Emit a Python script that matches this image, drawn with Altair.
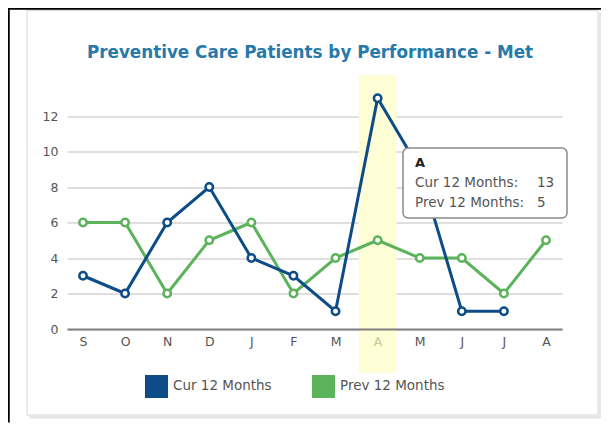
import altair as alt
import pandas as pd

# ---- data ----
months = ["Sep", "Oct", "Nov", "Dec", "Jan", "Feb", "Mar", "Apr", "May", "Jun", "Jul", "Aug"]
cur = [3, 2, 6, 8, 4, 3, 1, 13, 9, 1, 1, None]
prev = [6, 6, 2, 5, 6, 2, 4, 5, 4, 4, 2, 5]
series_names = ["Cur 12 Months", "Prev 12 Months"]
series_colors = ["#0d4c87", "#5cb35c"]
highlight_month = "Apr"
title_text = "Preventive Care Patients by Performance - Met"
y_ticks = [0, 2, 4, 6, 8, 10, 12]

rows = []
for m, c, p in zip(months, cur, prev):
    if c is not None:
        rows.append({"month": m, "series": series_names[0], "value": c})
    rows.append({"month": m, "series": series_names[1], "value": p})
df = pd.DataFrame(rows)
one = pd.DataFrame({"k": [0]})
hi_idx = months.index(highlight_month)
band_df = pd.DataFrame({"month": [highlight_month]})

FONT = "DejaVu Sans"
W, H = 495, 248.5
x_scale = alt.Scale(type="point", domain=months, padding=0.38)
y_scale = alt.Scale(domain=[0, 14], nice=False, zero=True)
color_scale = alt.Scale(domain=series_names, range=series_colors)

x_enc = alt.X(
    "month:N", scale=x_scale, sort=months,
    axis=alt.Axis(
        title=None, ticks=False, grid=False, domainColor="#808080", domainWidth=2,
        labelExpr="substring(datum.value, 0, 1)", labelAngle=0, labelPadding=6,
        labelFontSize=12.5, labelFont=FONT, zindex=1,
        labelColor={"condition": {"test": f"datum.value == '{highlight_month}'", "value": "#c8c98c"},
                    "value": "#555555"},
    ),
)
y_enc = alt.Y(
    "value:Q", scale=y_scale,
    axis=alt.Axis(
        title=None, values=y_ticks, domain=False, ticks=False, grid=True,
        gridColor="#d4d4d4", gridWidth=1.5, labelPadding=9, labelFontSize=12.5,
        labelColor="#555555", labelFont=FONT,
    ),
)

# frame / card decorations
frame_left = alt.Chart(one).mark_rule(color="#000000", strokeWidth=2.5).encode(
    x=alt.value(-58.5), y=alt.value(-73), y2=alt.value(342))
frame_top = alt.Chart(one).mark_rule(color="#000000", strokeWidth=2.5).encode(
    x=alt.value(-60), x2=alt.value(540), y=alt.value(-72))
card = alt.Chart(one).mark_rect(fill="transparent", stroke="#d6d6d6", strokeWidth=1).encode(
    x=alt.value(-40), x2=alt.value(531), y=alt.value(-70), y2=alt.value(334.5))
shadow_r = alt.Chart(one).mark_rule(color="#e6e6e6", strokeWidth=3).encode(
    x=alt.value(533), y=alt.value(-68), y2=alt.value(337))
shadow_b = alt.Chart(one).mark_rule(color="#e6e6e6", strokeWidth=3).encode(
    x=alt.value(-38), x2=alt.value(534.5), y=alt.value(336.5))

band = alt.Chart(band_df).mark_bar(size=38, color="#fdfdd6", orient="vertical").encode(
    x=x_enc, y=alt.value(-5.5), y2=alt.value(292.5))

base = alt.Chart(df)
layers = []
for s in [series_names[1], series_names[0]]:
    sub = base.transform_filter(alt.datum.series == s)
    layers.append(sub.mark_line(strokeWidth=3).encode(
        x=x_enc, y=y_enc, color=alt.Color("series:N", scale=color_scale, legend=None)))
    layers.append(sub.mark_point(filled=False, fill="white", size=55, strokeWidth=2.5, opacity=1).encode(
        x=x_enc, y=y_enc, color=alt.Color("series:N", scale=color_scale, legend=None)))

# legend (drawn as marks)
legend_marks = []
for i, (name, col) in enumerate(zip(series_names, series_colors)):
    x0 = 78 + 167 * i
    legend_marks.append(alt.Chart(one).mark_rect(fill=col).encode(
        x=alt.value(x0), x2=alt.value(x0 + 23), y=alt.value(294.5), y2=alt.value(317.5)))
    legend_marks.append(alt.Chart(one).mark_text(
        text=name, font=FONT, fontSize=13.5, color="#555555", align="left",
        baseline="middle").encode(x=alt.value(x0 + 28), y=alt.value(305)))

title = alt.Chart(one).mark_text(
    text=title_text, font=FONT, fontSize=16.8, fontWeight="bold", color="#2779aa",
    align="center", baseline="middle").encode(x=alt.value(243), y=alt.value(-27.5))

# tooltip annotation
tip_box = alt.Chart(one).mark_rect(fill="white", stroke="#8a8a8a", strokeWidth=1.5, cornerRadius=5).encode(
    x=alt.value(336), x2=alt.value(500), y=alt.value(67.5), y2=alt.value(137.5))
tip_head = alt.Chart(one).mark_text(
    text=highlight_month[0], font=FONT, fontSize=13, fontWeight="bold", color="#222222",
    align="left", baseline="alphabetic").encode(x=alt.value(348), y=alt.value(86))
tip_texts = []
for i, (lab, val) in enumerate([(series_names[0], cur[hi_idx]), (series_names[1], prev[hi_idx])]):
    yb = 106 + 20 * i
    tip_texts.append(alt.Chart(one).mark_text(
        text=f"{lab}:", font=FONT, fontSize=13.5, color="#555555", align="left",
        baseline="alphabetic").encode(x=alt.value(348), y=alt.value(yb)))
    tip_texts.append(alt.Chart(one).mark_text(
        text=str(val), font=FONT, fontSize=13.5, color="#555555", align="left",
        baseline="alphabetic").encode(x=alt.value(470), y=alt.value(yb)))

chart = alt.layer(
    frame_left, frame_top, card, shadow_r, shadow_b, band, *layers, *legend_marks,
    title, tip_box, tip_head, *tip_texts,
).properties(
    width=W, height=H,
    padding={"left": 59, "top": 72.5, "right": 39, "bottom": 101},
    autosize=alt.AutoSizeParams(type="none"),
).configure(font=FONT).configure_view(stroke=None)

chart.save("out.html", embed_options={"renderer": "svg", "actions": False})
